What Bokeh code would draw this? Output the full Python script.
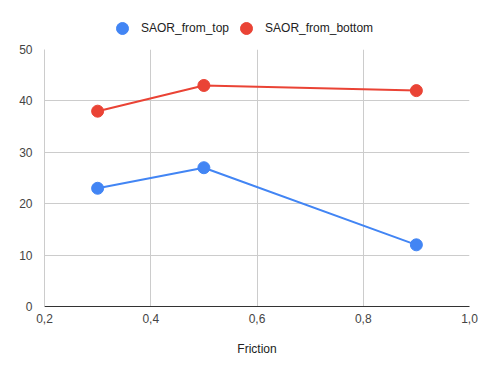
from bokeh.plotting import figure
from bokeh.layouts import column
from bokeh.models import Legend, LegendItem, FixedTicker, CustomJSTickFormatter, Range1d
from bokeh.embed import file_html
from bokeh.resources import INLINE

friction = [0.3, 0.5, 0.9]
saor_from_top = [23, 27, 12]
saor_from_bottom = [38, 43, 42]
series_names = ["SAOR_from_top", "SAOR_from_bottom"]
x_ticks = [0.2, 0.4, 0.6, 0.8, 1.0]
y_ticks = [0, 10, 20, 30, 40, 50]

BLUE = "#4285F4"
RED = "#EA4335"
FONT = "Liberation Sans"

# ---- legend strip (its key glyphs share the series data, outside the strip's view) ----
lg = figure(width=488, height=44, output_backend="svg", toolbar_location=None,
            x_range=Range1d(0, 1), y_range=Range1d(-2, -1),
            min_border_left=0, min_border_right=0, min_border_top=0, min_border_bottom=0)
lg.axis.visible = False
lg.grid.visible = False
lg.outline_line_color = None
k1 = lg.scatter(friction, saor_from_top, size=12, fill_color=BLUE, line_color=BLUE)
k2 = lg.scatter(friction, saor_from_bottom, size=12, fill_color=RED, line_color=RED)
legend = Legend(items=[LegendItem(label=series_names[0], renderers=[k1]),
                       LegendItem(label=series_names[1], renderers=[k2])],
                orientation="horizontal", location=(63, 1),
                label_text_font=FONT, label_text_font_size="12px", label_text_color="#222222",
                border_line_color=None, background_fill_alpha=0,
                spacing=2, glyph_width=30, glyph_height=30, label_standoff=4,
                padding=4, margin=0, label_height=14)
lg.add_layout(legend)

# ---- main chart ----
p = figure(width=488, height=329, output_backend="svg", toolbar_location=None,
           x_range=Range1d(0.2, 1.0), y_range=Range1d(0, 50),
           min_border_left=44, min_border_right=19, min_border_top=5, min_border_bottom=67)
p.outline_line_color = None
p.background_fill_color = "white"
p.border_fill_color = "white"

p.line(friction, saor_from_top, line_color=BLUE, line_width=2)
p.scatter(friction, saor_from_top, size=12, fill_color=BLUE, line_color=BLUE)
p.line(friction, saor_from_bottom, line_color=RED, line_width=2)
p.scatter(friction, saor_from_bottom, size=12, fill_color=RED, line_color=RED)

p.xaxis.ticker = FixedTicker(ticks=x_ticks)
p.yaxis.ticker = FixedTicker(ticks=y_ticks)
p.xaxis.formatter = CustomJSTickFormatter(code="return tick.toFixed(1).replace('.', ',');")
p.xaxis.axis_label = "Friction"

for ax in (p.xaxis[0], p.yaxis[0]):
    ax.major_tick_line_color = None
    ax.minor_tick_line_color = None
    ax.major_label_text_font = FONT
    ax.major_label_text_font_size = "12px"
    ax.major_label_text_color = "#444444"
    ax.axis_label_text_font = FONT
    ax.axis_label_text_font_size = "12px"
    ax.axis_label_text_font_style = "normal"
    ax.axis_label_text_color = "#222222"

p.xaxis.axis_line_color = "#333333"
p.xaxis.axis_line_width = 1
p.yaxis.axis_line_color = "#cccccc"
p.xaxis.major_label_standoff = 1
p.yaxis.major_label_standoff = 6
p.xaxis.axis_label_standoff = 16

p.grid.grid_line_color = "#cccccc"
p.grid.grid_line_width = 1

layout = column(lg, p, spacing=0)
open("out.html", "w").write(file_html(layout, INLINE))
